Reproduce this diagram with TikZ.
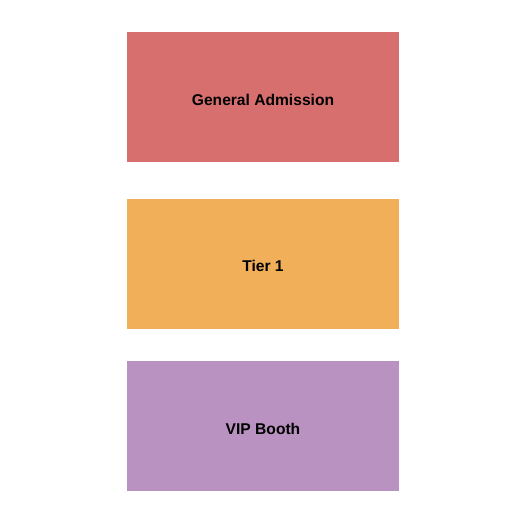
\documentclass[tikz,border=0pt]{standalone}
\usepackage{fontspec}
\setmainfont{Liberation Sans}
\usepackage{tikz}
\usetikzlibrary{positioning}
\definecolor{gacol}{HTML}{D76F6E}
\definecolor{tiercol}{HTML}{F2AF5A}
\definecolor{vipcol}{HTML}{BA92C2}

\begin{document}
\begin{tikzpicture}[x=1pt, y=-1pt,
  section/.style={draw=none, minimum width=272pt, minimum height=130pt, inner sep=0pt},
  seclabel/.style={font=\bfseries\fontsize{15.6}{18}\selectfont, text=black, inner sep=0pt}]
\useasboundingbox (0,0) rectangle (525,525);

% Sections
\node[section, fill=gacol] (ga) at (263,97) {};
\node[section, fill=tiercol] (tier) at (263,264) {};
\node[section, fill=vipcol] (vip) at (263,426) {};

% Labels
\node[seclabel] (galabel) at (263,100) {General Admission};
\node[seclabel] (tierlabel) at (263,266) {Tier 1};
\node[seclabel] (viplabel) at (263,429) {VIP Booth};
\end{tikzpicture}
\end{document}
